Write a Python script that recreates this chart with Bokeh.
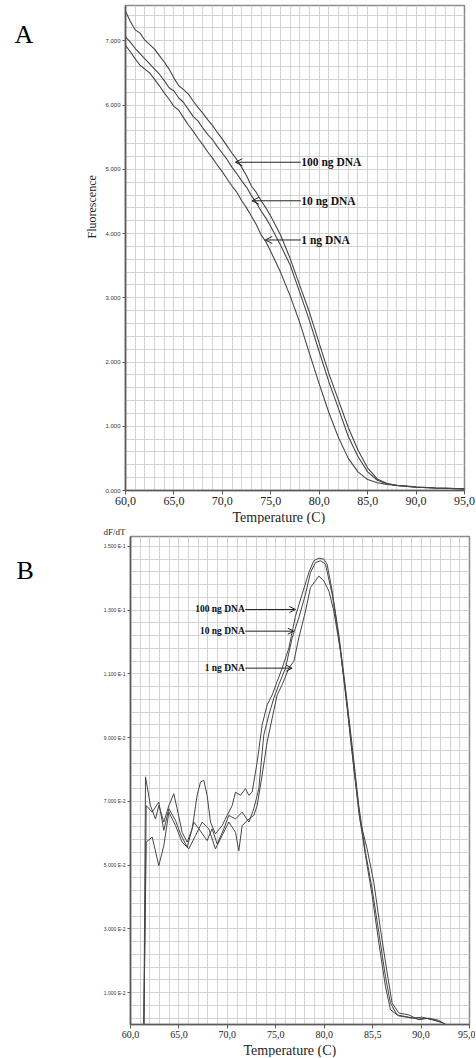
from bokeh.plotting import figure
from bokeh.models import Range1d, FixedTicker, Label, Arrow, OpenHead, Title
from bokeh.layouts import column, row
from bokeh.embed import file_html
from bokeh.resources import INLINE

# ---------------- Panel A: melting curves (Fluorescence vs Temperature) -------------
TEMP_A = [60, 60.5, 61, 61.5, 62, 62.5, 63, 63.5, 64, 64.5, 65, 65.5, 66, 66.5, 67, 67.5,
          68, 68.5, 69, 69.5, 70, 70.5, 71, 71.5, 72, 72.5, 73, 73.5, 74, 74.5, 75,
          76, 77, 78, 79, 80, 81, 82, 83, 84, 85, 86, 87, 88, 90, 92, 95]
FLUOR_100NG = [7.46, 7.30, 7.17, 7.12, 7.01, 6.94, 6.87, 6.77, 6.67, 6.56, 6.42, 6.30, 6.24, 6.17,
               6.06, 5.96, 5.87, 5.77, 5.68, 5.57, 5.47, 5.36, 5.25, 5.15, 5.03, 4.90, 4.74, 4.64,
               4.51, 4.40, 4.27, 3.98, 3.61, 3.19, 2.77, 2.29, 1.82, 1.40, 0.98, 0.63, 0.35, 0.18,
               0.11, 0.08, 0.05, 0.04, 0.026]
FLUOR_10NG = [7.06, 6.98, 6.88, 6.80, 6.72, 6.64, 6.56, 6.48, 6.38, 6.27, 6.22, 6.11, 6.04, 5.93,
              5.82, 5.75, 5.64, 5.54, 5.46, 5.35, 5.25, 5.15, 5.03, 4.93, 4.82, 4.72, 4.59, 4.48,
              4.35, 4.24, 4.11, 3.82, 3.51, 3.08, 2.64, 2.16, 1.69, 1.27, 0.84, 0.53, 0.29, 0.16,
              0.105, 0.08, 0.05, 0.04, 0.026]
FLUOR_1NG = [6.93, 6.83, 6.72, 6.62, 6.56, 6.50, 6.40, 6.30, 6.19, 6.09, 5.98, 5.92, 5.80, 5.69,
             5.59, 5.48, 5.38, 5.27, 5.17, 5.06, 4.96, 4.85, 4.74, 4.64, 4.51, 4.40, 4.27, 4.14,
             3.98, 3.87, 3.72, 3.40, 3.03, 2.61, 2.13, 1.66, 1.21, 0.82, 0.50, 0.29, 0.17, 0.12,
             0.095, 0.08, 0.058, 0.04, 0.026]

A_XTICKS = [60, 65, 70, 75, 80, 85, 90, 95]
A_XLABELS = ["60,0", "65,0", "70,0", "75,0", "80,0", "85,0", "90,0", "95,0"]
A_YTICKS = [0, 1, 2, 3, 4, 5, 6, 7]
A_YLABELS = ["0.000", "1.000", "2.000", "3.000", "4.000", "5.000", "6.000", "7.000"]

# annotation: label, arrow tip temperature, arrow tip / label fluorescence
A_LABELS = ["100 ng DNA", "10 ng DNA", "1 ng DNA"]
A_TIP_T = [71.34, 73.06, 74.43]
A_TIP_F = [5.11, 4.51, 3.90]

# ---------------- Panel B: derivative curves (dF/dT vs Temperature) -----------------
TEMP_B_100 = [60, 61.38, 61.55, 62.06, 62.58, 62.92, 63.44, 63.96, 64.47, 64.82, 65.33, 65.85,
              66.37, 66.88, 67.23, 67.57, 67.91, 68.26, 68.77, 69.46, 69.98, 70.50, 70.84, 71.36,
              71.87, 72.22, 72.56, 73.08, 73.59, 74.11, 74.63, 75.14, 75.66, 76.35, 77.03, 77.72,
              78.41, 78.93, 79.44, 79.96, 80.30, 80.82, 81.51, 82.20, 82.88, 83.57, 84.26, 84.95,
              85.64, 86.32, 86.84, 87.53, 88.73, 89.77, 90.45, 91.49, 92.52]
DFDT_100 = [0, 0, 0.0777, 0.0687, 0.0645, 0.0687, 0.0635, 0.0687, 0.0724, 0.0677, 0.0603, 0.0572,
            0.0614, 0.0719, 0.0761, 0.0766, 0.0719, 0.0635, 0.0598, 0.0624, 0.0656, 0.0687, 0.0729,
            0.0719, 0.0740, 0.0719, 0.0729, 0.0824, 0.0940, 0.1003, 0.1034, 0.1076, 0.1118, 0.1181,
            0.1281, 0.1350, 0.1418, 0.1455, 0.1463, 0.1460, 0.1444, 0.1360, 0.1223, 0.1055, 0.0877,
            0.0687, 0.0540, 0.0425, 0.0288, 0.0151, 0.0067, 0.0030, 0.0023, 0.0017, 0.0020, 0.0013,
            0.0002]
TEMP_B_10 = [60, 61.38, 61.62, 62.24, 62.92, 63.44, 63.96, 64.65, 65.16, 65.85, 66.54, 67.05,
             67.91, 68.43, 68.95, 69.64, 70.15, 70.84, 71.53, 72.22, 72.73, 73.25, 73.76, 74.28,
             74.80, 75.31, 76.00, 76.69, 77.38, 78.07, 78.58, 79.10, 79.61, 80.13, 80.82, 81.51,
             82.20, 82.88, 83.57, 84.26, 84.95, 85.64, 86.32, 86.84, 87.70, 89.08, 90.11, 91.14,
             92.17]
DFDT_10 = [0, 0, 0.0687, 0.0666, 0.0698, 0.0609, 0.0677, 0.0640, 0.0598, 0.0556, 0.0635, 0.0614,
           0.0577, 0.0614, 0.0566, 0.0614, 0.0656, 0.0645, 0.0666, 0.0635, 0.0677, 0.0740, 0.0908,
           0.0971, 0.1024, 0.1066, 0.1118, 0.1213, 0.1276, 0.1350, 0.1418, 0.1449, 0.1455, 0.1444,
           0.1350, 0.1213, 0.1045, 0.0856, 0.0666, 0.0530, 0.0404, 0.0256, 0.0120, 0.0046, 0.0027,
           0.0020, 0.0023, 0.0015, 0.0006]
TEMP_B_1 = [60, 61.38, 61.62, 62.24, 62.92, 63.44, 63.96, 64.65, 65.33, 66.02, 66.71, 67.40,
            68.09, 68.77, 69.46, 70.15, 70.84, 71.18, 71.53, 72.22, 72.73, 73.08, 73.59, 74.11,
            74.63, 75.14, 75.66, 76.35, 76.86, 77.38, 78.07, 78.58, 79.10, 79.44, 79.96, 80.48,
            80.99, 81.68, 82.37, 83.06, 83.74, 84.43, 85.12, 85.81, 86.50, 87.01, 87.70, 88.73,
            89.77, 90.80, 91.83, 92.52]
DFDT_1 = [0, 0, 0.0572, 0.0588, 0.0498, 0.0561, 0.0666, 0.0624, 0.0572, 0.0551, 0.0593, 0.0635,
          0.0614, 0.0551, 0.0593, 0.0635, 0.0603, 0.0545, 0.0624, 0.0645, 0.0656, 0.0687, 0.0782,
          0.0887, 0.0961, 0.1034, 0.1066, 0.1118, 0.1139, 0.1213, 0.1297, 0.1371, 0.1392, 0.1407,
          0.1392, 0.1360, 0.1297, 0.1171, 0.0992, 0.0803, 0.0635, 0.0551, 0.0446, 0.0298, 0.0162,
          0.0067, 0.0036, 0.0030, 0.0015, 0.0020, 0.0013, 0]

B_XTICKS = [60, 65, 70, 75, 80, 85, 90, 95]
B_XLABELS = ["60,0", "65,0", "70,0", "75,0", "80,0", "85,5", "90,0", "95,0"]
B_YTICKS = [0.01, 0.03, 0.05, 0.07, 0.09, 0.11, 0.13, 0.15]
B_YLABELS = ["1.000 E-2", "3.000 E-2", "5.000 E-2", "7.000 E-2", "9.000 E-2",
             "1.100 E-1", "1.300 E-1", "1.500 E-1"]

B_LABELS = ["100 ng DNA", "10 ng DNA", "1 ng DNA"]
B_TIP_T = [77.03, 76.86, 76.69]
B_TIP_V = [0.1302, 0.1234, 0.1118]

# ------------------------------------------------------------------------------------
SERIF = "Liberation Serif"
SANS = "Liberation Sans"
CURVE = "#464646"
GRID = "#d3d3d3"
AXIS = "#5a5a5a"
TXT = "#1e1e1e"


def make_fig(width, height, left, right, top, ymax):
    p = figure(width=width, height=height, x_range=Range1d(60, 95), y_range=Range1d(0, ymax),
               output_backend="svg", toolbar_location=None,
               min_border_left=left, min_border_right=right,
               min_border_top=top, min_border_bottom=0)
    p.outline_line_color = "#8c8c8c"
    p.outline_line_width = 1.5
    p.xgrid.ticker = FixedTicker(ticks=list(range(60, 96)))
    p.xgrid.grid_line_color = GRID
    p.ygrid.grid_line_color = GRID
    for ax in (p.xaxis[0], p.yaxis[0]):
        ax.axis_line_color = AXIS
        ax.axis_line_width = 1.6
        ax.major_tick_line_color = AXIS
        ax.minor_tick_line_color = None
        ax.major_tick_in = 0
        ax.major_tick_out = 4
        ax.axis_label_standoff = 0
    p.xaxis.major_label_text_font = SERIF
    p.xaxis.major_label_text_color = TXT
    p.xaxis.major_label_standoff = 2
    p.yaxis.major_label_text_font = SANS
    p.yaxis.major_label_text_color = "#333333"
    p.yaxis.major_label_standoff = 2
    p.yaxis.major_tick_out = 3
    return p


def text_box(width, height):
    """Plain, axis-less figure that only holds the panel letter."""
    f = figure(width=width, height=height, x_range=Range1d(0, width), y_range=Range1d(0, height),
               output_backend="svg", toolbar_location=None, x_axis_type=None, y_axis_type=None,
               min_border_left=0, min_border_right=0, min_border_top=0, min_border_bottom=0)
    f.outline_line_color = None
    f.xgrid.visible = False
    f.ygrid.visible = False
    return f


H_A, H_B = 524, 533
SIDE_W, MAIN_W = 60, 415

# ---------------- Figure A ----------------
pA = make_fig(MAIN_W, H_A, 65, 11, 5, 7.55)
pA.xaxis.ticker = FixedTicker(ticks=A_XTICKS)
pA.xaxis.major_label_overrides = dict(zip(A_XTICKS, A_XLABELS))
pA.xaxis.major_label_text_font_size = "12px"
pA.yaxis.ticker = FixedTicker(ticks=A_YTICKS)
pA.yaxis.major_label_overrides = dict(zip(A_YTICKS, A_YLABELS))
pA.yaxis.major_label_text_font_size = "6px"
pA.ygrid.ticker = FixedTicker(ticks=[round(i * 0.2, 1) for i in range(38)])

pA.add_layout(Title(text="Fluorescence", align="left", offset=252, standoff=8,
                    text_font=SERIF, text_font_size="12px", text_font_style="normal",
                    text_color=TXT), "left")
pA.add_layout(Title(text="Temperature (C)", align="left", offset=107, standoff=0,
                    text_font=SERIF, text_font_size="14px", text_font_style="normal",
                    text_color=TXT), "below")

for series in (FLUOR_100NG, FLUOR_10NG, FLUOR_1NG):
    pA.line(TEMP_A, series, line_color=CURVE, line_width=1.1)

for lab, ff in zip(A_LABELS, A_TIP_F):
    pA.add_layout(Label(x=78.15, y=ff, text=lab, text_font=SERIF, text_font_style="bold",
                        text_font_size="11.5px", text_baseline="middle", text_align="left",
                        text_color="#111111"))
for tt, ff in zip(A_TIP_T, A_TIP_F):
    pA.add_layout(Arrow(end=OpenHead(size=7, line_width=1, line_color="#222222"),
                        x_start=78.1, y_start=ff, x_end=tt, y_end=ff,
                        line_color="#222222", line_width=1))

sideA = text_box(SIDE_W, H_A)
sideA.add_layout(Label(x=14, y=H_A - 31, text="A", text_font=SERIF, text_font_size="26px",
                       text_align="left", text_baseline="alphabetic", text_color="black"))

# ---------------- Figure B ----------------
pB = make_fig(MAIN_W, H_B, 70, 6, 12, 0.1531)
pB.xaxis.ticker = FixedTicker(ticks=B_XTICKS)
pB.xaxis.major_label_overrides = dict(zip(B_XTICKS, B_XLABELS))
pB.xaxis.major_label_text_font_size = "10px"
pB.yaxis.ticker = FixedTicker(ticks=B_YTICKS)
pB.yaxis.major_label_overrides = dict(zip(B_YTICKS, B_YLABELS))
pB.yaxis.major_label_text_font_size = "5px"
pB.ygrid.ticker = FixedTicker(ticks=[round(0.002 + i * 0.004, 3) for i in range(38)])

pB.add_layout(Title(text="dF/dT", align="left", offset=-27, standoff=0,
                    text_font=SERIF, text_font_size="9px", text_font_style="normal",
                    text_color=TXT), "above")
pB.add_layout(Title(text="Temperature (C)", align="left", offset=113, standoff=0,
                    text_font=SERIF, text_font_size="14px", text_font_style="normal",
                    text_color=TXT), "below")

for tt, vv in ((TEMP_B_100, DFDT_100), (TEMP_B_10, DFDT_10), (TEMP_B_1, DFDT_1)):
    pB.line(tt, vv, line_color=CURVE, line_width=1.0)

for lab, vv in zip(B_LABELS, B_TIP_V):
    pB.add_layout(Label(x=71.8, y=vv, text=lab, text_font=SERIF, text_font_style="bold",
                        text_font_size="9.5px", text_baseline="middle", text_align="right",
                        text_color="#111111"))
for tt, vv in zip(B_TIP_T, B_TIP_V):
    pB.add_layout(Arrow(end=OpenHead(size=6, line_width=1, line_color="#222222"),
                        x_start=71.85, y_start=vv, x_end=tt, y_end=vv,
                        line_color="#222222", line_width=1))

sideB = text_box(SIDE_W, H_B)
sideB.add_layout(Label(x=16, y=H_B - 37, text="B", text_font=SERIF, text_font_size="26px",
                       text_align="left", text_baseline="alphabetic", text_color="black"))

layout = column(row(sideA, pA, spacing=0), row(sideB, pB, spacing=0), spacing=0)
open("out.html", "w").write(file_html(layout, INLINE))
